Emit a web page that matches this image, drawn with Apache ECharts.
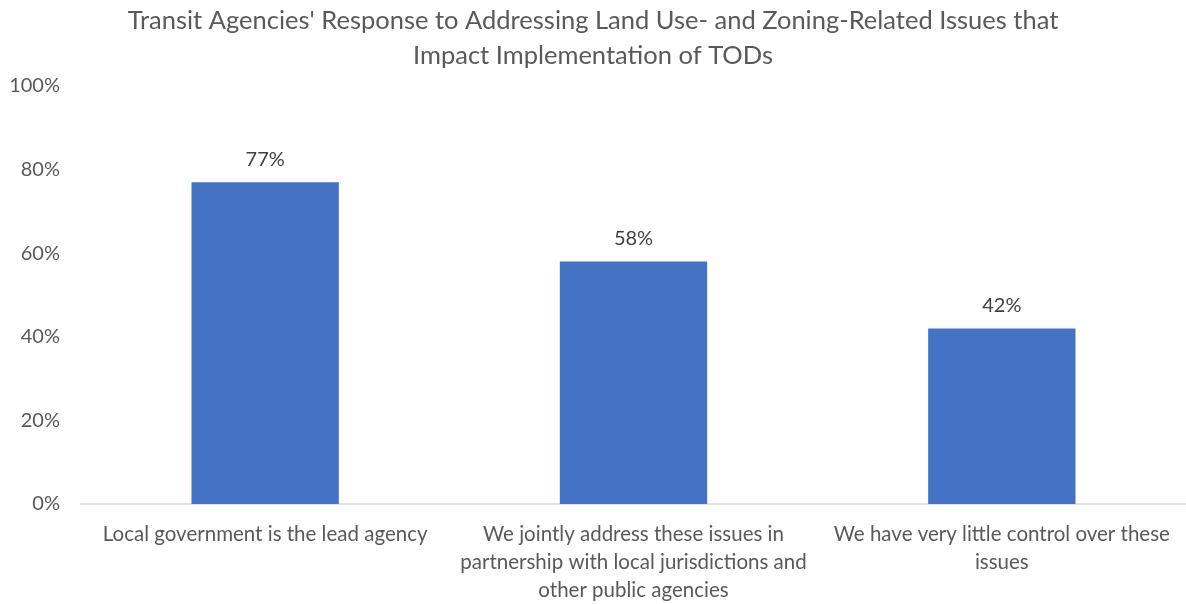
<!DOCTYPE html>
<html>
<head>
<meta charset="utf-8">
<script src="https://cdn.jsdelivr.net/npm/echarts@6/dist/echarts.min.js"></script>
<style>
  html, body { margin: 0; padding: 0; background: #fff; }
  #chart { width: 1186px; height: 604px; }
</style>
</head>
<body>
<div id="chart"></div>
<script>
// categories (line breaks as in the original labels)
const categories = [
  'Local government is the lead agency',
  'We jointly address these issues in\npartnership with local jurisdictions and\nother public agencies',
  'We have very little control over these\nissues'
];
const shares = [77, 58, 42];
const yTicks = [0, 20, 40, 60, 80, 100];

const chart = echarts.init(document.getElementById('chart'));
chart.setOption({
  backgroundColor: '#fff',
  textStyle: { fontFamily: 'Lato' },
  title: {
    text: "Transit Agencies' Response to Addressing Land Use- and Zoning-Related Issues that\nImpact Implementation of TODs",
    left: 'center',
    top: -2,
    textStyle: { fontSize: 25.5, fontWeight: 'normal', color: '#595959', lineHeight: 35, fontFamily: 'Lato' }
  },
  grid: { left: 81, right: -8, top: 86, bottom: 99 },
  xAxis: {
    type: 'category',
    data: categories,
    axisTick: { show: false },
    axisLine: { lineStyle: { color: '#d9d9d9', width: 1.5 } },
    axisLabel: { color: '#595959', fontSize: 20.5, lineHeight: 28, margin: 16, interval: 0, align: 'center' }
  },
  yAxis: {
    type: 'value',
    min: yTicks[0],
    max: yTicks[yTicks.length - 1],
    interval: 20,
    splitLine: { show: false },
    axisLine: { show: false },
    axisTick: { show: false },
    axisLabel: { color: '#595959', fontSize: 20, margin: 21, formatter: v => v + '%' }
  },
  series: [{
    type: 'bar',
    data: shares,
    barWidth: '40%',
    itemStyle: { color: '#4472C4' },
    label: {
      show: true,
      position: 'top',
      distance: 13,
      color: '#404040',
      fontSize: 20,
      formatter: p => p.value + '%'
    }
  }]
});
</script>
</body>
</html>
